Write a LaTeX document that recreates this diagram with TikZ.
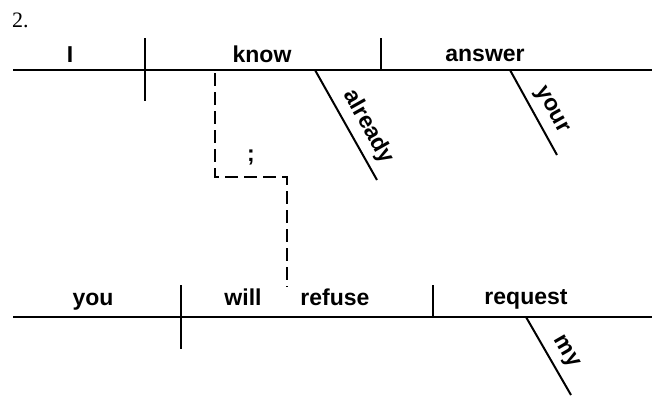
\documentclass[tikz,border=0pt]{standalone}
\usepackage{fontspec}
\setmainfont{Liberation Serif}
\setsansfont{Liberation Sans}
\begin{document}
\begin{tikzpicture}[x=1pt,y=-1pt,
  wordlbl/.style={font=\sffamily\bfseries\fontsize{23}{27}\selectfont, inner sep=0pt, anchor=base},
  slantlbl/.style={font=\sffamily\bfseries\fontsize{23}{27}\selectfont, sloped, above, inner sep=0pt, yshift=7pt},
  mainrule/.style={line width=2pt},
  barrule/.style={line width=1.6pt},
  dashrule/.style={line width=1.8pt, dash pattern=on 13pt off 6pt}]
\useasboundingbox (0,0) rectangle (656,397);
\node[font=\fontsize{22}{26}\selectfont, anchor=base west, inner sep=0pt] (num) at (12,27) {2.};
% top clause
\coordinate (tL) at (13,70); \coordinate (tR) at (652,70);
\coordinate (sb1) at (145,38); \coordinate (sb2) at (145,101);
\coordinate (ob1) at (381,38); \coordinate (ob2) at (381,70);
\draw[mainrule] (tL) -- (tR);
\draw[mainrule] (sb1) -- (sb2);
\draw[mainrule] (ob1) -- (ob2);
\node[wordlbl] (wI) at (70,62) {I};
\node[wordlbl] (wknow) at (262,62) {know};
\node[wordlbl] (wanswer) at (485,61) {answer};
\coordinate (al1) at (315,70); \coordinate (al2) at (377,180);
\draw[mainrule] (al1) -- (al2) node[slantlbl, pos=0.6] (walready) {already};
\coordinate (yo1) at (510,70); \coordinate (yo2) at (557,155);
\draw[mainrule] (yo1) -- (yo2) node[slantlbl, pos=0.57] (wyour) {your};
% connector
\coordinate (d1) at (215,73); \coordinate (d2) at (215,177);
\coordinate (d3) at (287,177); \coordinate (d4) at (287,287);
\draw[dashrule] (d1) -- (d2) -- (d3) -- (d4);
\node[wordlbl] (semi) at (251,161) {;};
% bottom clause
\coordinate (bL) at (13,317); \coordinate (bR) at (652,317);
\coordinate (bs1) at (181,285); \coordinate (bs2) at (181,349);
\coordinate (bo1) at (433,285); \coordinate (bo2) at (433,317);
\draw[mainrule] (bL) -- (bR);
\draw[barrule] (bs1) -- (bs2);
\draw[barrule] (bo1) -- (bo2);
\node[wordlbl] (wyou) at (93,305) {you};
\node[wordlbl] (wwill) at (243,305) {will};
\node[wordlbl] (wrefuse) at (335,305) {refuse};
\node[wordlbl] (wrequest) at (526,304) {request};
\coordinate (my1) at (526,317); \coordinate (my2) at (571,395);
\draw[mainrule] (my1) -- (my2) node[slantlbl, pos=0.56] (wmy) {my};
\end{tikzpicture}
\end{document}
